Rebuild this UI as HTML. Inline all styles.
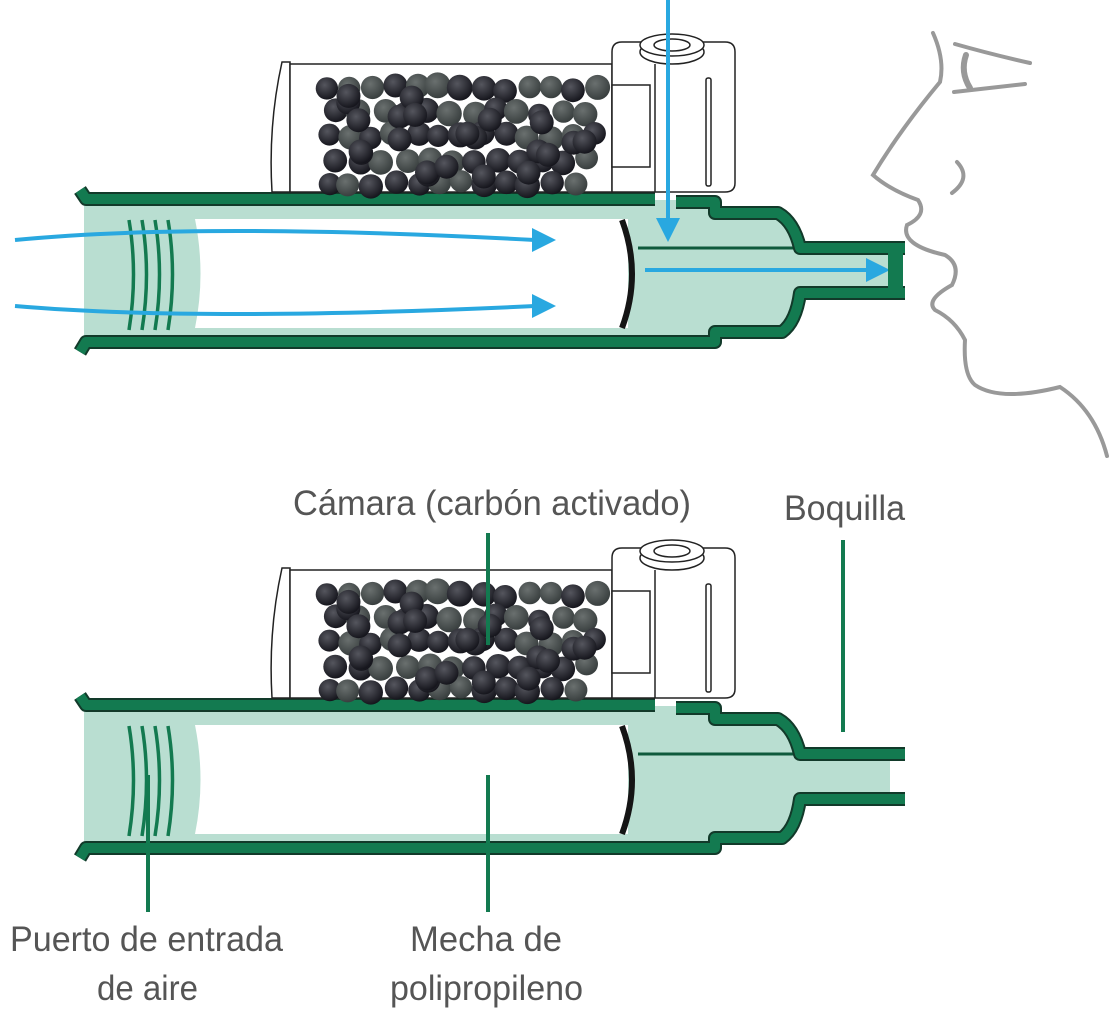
<!DOCTYPE html>
<html><head><meta charset="utf-8"><style>
html,body{margin:0;padding:0;background:#fff;width:1119px;height:1024px;overflow:hidden}
svg{display:block}
text{font-family:"Liberation Sans",sans-serif;fill:#555;font-size:35px}
</style></head><body>
<svg width="1119" height="1024" viewBox="0 0 1119 1024" xmlns="http://www.w3.org/2000/svg">
<defs>
<radialGradient id="gd" cx="0.4" cy="0.35" r="0.7"><stop offset="0" stop-color="#55565e"/><stop offset="1" stop-color="#111118"/></radialGradient>
<radialGradient id="gg" cx="0.4" cy="0.35" r="0.7"><stop offset="0" stop-color="#6a706f"/><stop offset="1" stop-color="#353b3b"/></radialGradient>
<g id="dev">
  <path d="M84,200 L676,200 L715,205 L715,212 L778,212 Q792,222 800,249 L890,249 L890,292 L800,292 Q794,320 782,333 L715,333 L715,343 L84,343 Z" fill="#b9ded1"/>
  <path d="M195,219 L628,219 L628,328 L195,328 Q206,274 195,219 Z" fill="#fff"/>
  <g fill="none" stroke="#137a50" stroke-width="3.5">
    <path d="M129,220 Q138,274 129,330"/><path d="M142,220 Q151,274 142,330"/>
    <path d="M155,220 Q164,274 155,330"/><path d="M168,220 Q177,274 168,330"/>
  </g>
  <path d="M622,220 Q642,274 622,328" fill="none" stroke="#151515" stroke-width="6"/>
  <path d="M638,248 L800,248" stroke="#0f5a3c" stroke-width="3" fill="none"/>
  <g fill="none" stroke-linejoin="round">
    <g stroke="#123a2a" stroke-width="14">
      <path d="M80,190 L86,199 L655,199"/>
      <path d="M676,202 L715,202 L715,213 L778,213 Q794,222 800,248 L905,248"/>
      <path d="M80,352 L86,342 L715,342 L715,332 L782,332 Q796,322 800,293 L905,293"/>
    </g>
    <g stroke="#137a50" stroke-width="10">
      <path d="M80,190 L86,199 L655,199"/>
      <path d="M676,202 L715,202 L715,213 L778,213 Q794,222 800,248 L905,248"/>
      <path d="M80,352 L86,342 L715,342 L715,332 L782,332 Q796,322 800,293 L905,293"/>
    </g>
  </g>
  <g fill="#fff" stroke="#222" stroke-width="1.5">
    <path d="M282,62 L290,62 L290,192 L272,192 Q268,125 282,62 Z"/>
    <rect x="290" y="64" width="322" height="128"/>
    <path d="M612,192 L612,52 Q612,42 622,42 L725,42 Q735,42 735,52 L735,183 Q735,192 725,192 Z"/>
    <rect x="612" y="85" width="38" height="82"/>
    <line x1="655" y1="64" x2="655" y2="192"/>
    <rect x="706" y="78" width="5" height="108" rx="2"/>
    <ellipse cx="672" cy="52" rx="32" ry="12"/>
    <ellipse cx="672" cy="45" rx="32" ry="11"/>
    <ellipse cx="672" cy="45" rx="18" ry="6"/>
  </g>
  <g id="beads"></g>
</g>
</defs>

<use href="#dev"/>
<use href="#dev" y="506"/>

<g fill="none" stroke="#29a8e0" stroke-width="4">
  <path d="M15,240 Q200,222 535,240"/>
  <path d="M15,306 Q200,322 535,306"/>
  <path d="M668,0 L668,222"/>
  <path d="M645,270 L872,270"/>
</g>
<g fill="#29a8e0">
  <polygon points="532,228 556,240 532,252"/>
  <polygon points="532,294 556,306 532,318"/>
  <polygon points="656,218 680,218 668,242"/>
  <polygon points="866,258 890,270 866,282"/>
</g>
<rect x="888" y="253" width="15" height="36" fill="#137a50"/>

<g fill="none" stroke="#999" stroke-width="4" stroke-linecap="round">
  <path d="M933,33 Q945,60 940,82 Q900,130 873,175 Q890,190 918,200 Q928,215 907,225 Q900,245 945,255 Q962,265 952,285 Q925,300 935,310 Q955,320 965,340 Q963,375 975,385 Q1000,402 1060,387 Q1095,410 1107,456"/>
  <path d="M955,44 Q990,54 1030,63"/>
  <path d="M954,92 L1025,84"/>
  <path d="M966,55 Q960,72 970,88" stroke-width="6"/>
  <path d="M957,162 Q972,178 952,193"/>
</g>

<g stroke="#137a50" stroke-width="4">
  <line x1="488" y1="533" x2="488" y2="645"/>
  <line x1="843" y1="540" x2="843" y2="732"/>
  <line x1="148" y1="775" x2="148" y2="912"/>
  <line x1="488" y1="775" x2="488" y2="912"/>
</g>

<text x="293" y="515" textLength="398" lengthAdjust="spacingAndGlyphs">Cámara (carbón activado)</text>
<text x="784" y="520" textLength="121" lengthAdjust="spacingAndGlyphs">Boquilla</text>
<text x="10" y="951" textLength="273" lengthAdjust="spacingAndGlyphs">Puerto de entrada</text>
<text x="97" y="1000" textLength="101" lengthAdjust="spacingAndGlyphs">de aire</text>
<text x="410" y="951" textLength="152" lengthAdjust="spacingAndGlyphs">Mecha de</text>
<text x="390" y="1000" textLength="193" lengthAdjust="spacingAndGlyphs">polipropileno</text>

<script>
(function(){
  var g=document.getElementById('beads');var ns='http://www.w3.org/2000/svg';
  var s=7;function r(){s=(s*9301+49297)%233280;return s/233280;}
  for(var row=0;row<5;row++){for(var col=0;col<13;col++){
    var cx=327+col*22.5+(row%2?11:0)+(r()-0.5)*6, cy=88+row*24+(r()-0.5)*6;
    if(cx>598)continue;
    var c=document.createElementNS(ns,'circle');
    c.setAttribute('cx',cx.toFixed(1));c.setAttribute('cy',cy.toFixed(1));c.setAttribute('r',(11+r()*2).toFixed(1));
    c.setAttribute('fill',r()<0.45?'url(#gd)':'url(#gg)');g.appendChild(c);
  }}
  for(var i=0;i<22;i++){
    var c=document.createElementNS(ns,'circle');
    c.setAttribute('cx',(325+r()*270).toFixed(1));c.setAttribute('cy',(82+r()*98).toFixed(1));c.setAttribute('r','12');
    c.setAttribute('fill','url(#gd)');g.appendChild(c);
  }
})();
</script>
</svg>
</body></html>
